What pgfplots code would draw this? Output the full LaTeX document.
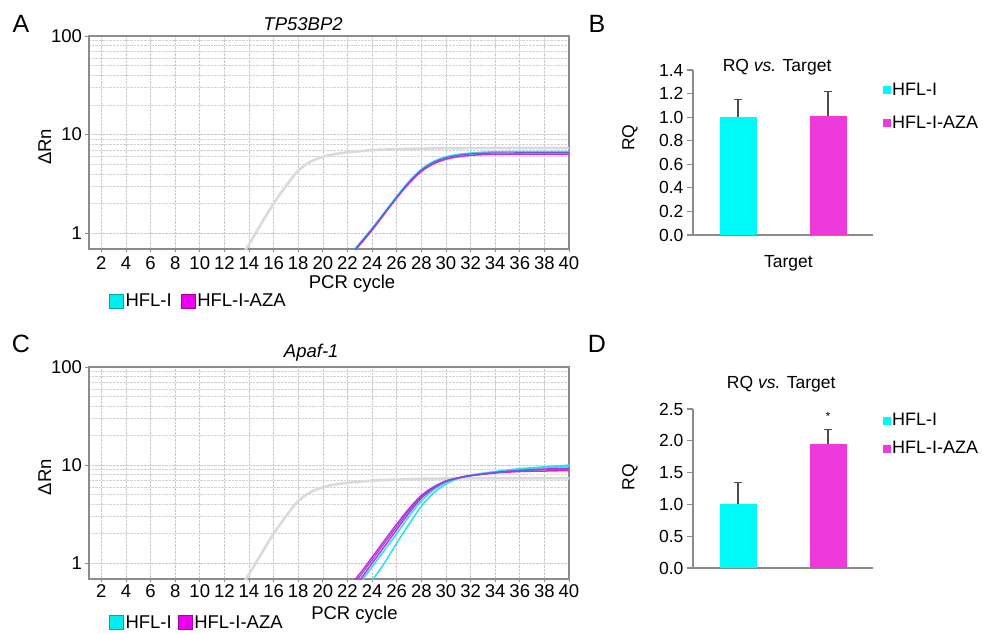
\documentclass[border=0pt]{standalone}
\usepackage{pgfplots}
\pgfplotsset{compat=1.18}
\usepackage{fontspec}
\setmainfont{Liberation Sans}
\definecolor{lcyan}{RGB}{40,225,235}
\definecolor{lmag}{RGB}{215,40,215}
\definecolor{lblue}{RGB}{95,95,225}
\definecolor{bcyan}{RGB}{0,250,250}
\definecolor{bmag}{RGB}{238,58,218}
\definecolor{sqcyan}{RGB}{0,238,238}
\definecolor{sqmag}{RGB}{238,0,238}
\definecolor{ghost}{RGB}{218,218,218}
\definecolor{axgray}{RGB}{140,140,140}
\definecolor{gridgray}{RGB}{200,200,200}
\newcommand{\fs}{\fontsize{18.5}{21}\selectfont}
\newcommand{\fsb}{\fontsize{17.5}{20}\selectfont}
\newcommand{\fsl}{\fontsize{18}{20}\selectfont}
\begin{document}
\begin{tikzpicture}
\path[use as bounding box] (0,0) rectangle (983pt,-633pt);
\node[font=\fontsize{25}{28}\selectfont] at (21pt,-24pt) {A};
\node[font=\fontsize{25}{28}\selectfont] at (597pt,-24pt) {B};
\node[font=\fontsize{25}{28}\selectfont] at (21pt,-344pt) {C};
\node[font=\fontsize{25}{28}\selectfont] at (597pt,-344pt) {D};

% ---------- A ----------
\begin{axis}[scale only axis, width=480pt, height=213pt, at={(89pt,-249pt)}, anchor=south west,
    ymode=log, xmin=1, xmax=40, ymin=0.69, ymax=100,
    xtick={2,4,...,40}, ytick={1,10,100}, yticklabels={1,10,100},
    grid=both, major grid style={densely dotted, gridgray, line width=0.6pt},
    minor grid style={densely dotted, gridgray!80, line width=0.5pt},
    tick pos=left, tick align=outside, major tick length=3.5pt, minor tick length=0pt,
    axis line style={axgray, line width=1.2pt}, tick style={axgray, line width=0.8pt},
    /pgf/number format/assume math mode=true,
    tick label style={font=\fs}, label style={font=\fs}, title style={font=\fs},
    xticklabel style={inner sep=1pt, yshift=-3pt},
    ylabel={ΔRn}, xlabel={PCR cycle},
  title={\textit{TP53BP2}}, title style={at={(axis description cs:0.446,1.026)}, anchor=center},
  ylabel style={at={(axis description cs:-0.092,0.48)}, anchor=center},
  xlabel style={at={(axis description cs:0.548,-0.165)}, anchor=center},
  legend style={at={(axis description cs:0.035,-0.243)}, anchor=west, draw=none, fill=none, font=\fs,
    /tikz/every even column/.append style={column sep=7pt}},
  legend columns=2, legend cell align=left]
\addplot[ghost, line width=2.6pt, smooth, forget plot] coordinates {
(13.5,0.62) (14,0.77) (15,1.25) (16,2.0) (17,3.0) (18,4.3) (19,5.3) (20,5.95) (21,6.35) (22,6.6) (24,6.95) (26,7.1) (28,7.2) (30,7.25) (34,7.3) (40,7.3)};
\addplot[lmag, line width=1.5pt, smooth, forget plot] coordinates {
(22,0.54) (23,0.76) (24,1.07) (25,1.56) (26,2.27) (27,3.2) (28,4.22) (29,5.05) (30,5.62) (31,5.95) (32,6.15) (33,6.25) (34,6.3) (36,6.32) (38,6.33) (40,6.33)};
\addplot[lcyan, line width=1.5pt, smooth, forget plot] coordinates {
(22,0.56) (23,0.79) (24,1.12) (25,1.62) (26,2.36) (27,3.35) (28,4.45) (29,5.35) (30,5.95) (31,6.3) (32,6.5) (33,6.62) (34,6.68) (36,6.7) (38,6.7) (40,6.7)};
\addplot[lblue, line width=1.3pt, smooth, forget plot] coordinates {
(22,0.55) (23,0.78) (24,1.1) (25,1.6) (26,2.32) (27,3.28) (28,4.35) (29,5.22) (30,5.8) (31,6.15) (32,6.35) (33,6.45) (34,6.5) (36,6.52) (38,6.55) (40,6.55)};
\addlegendimage{legend image code/.code={\draw[fill=sqcyan, draw=sqcyan!70!black, line width=0.5pt] (0pt,-7pt) rectangle (14pt,7pt);}}
\addlegendentry{HFL-I}
\addlegendimage{legend image code/.code={\draw[fill=sqmag, draw=sqmag!70!black, line width=0.5pt] (0pt,-7pt) rectangle (14pt,7pt);}}
\addlegendentry{HFL-I-AZA}
\end{axis}

% ---------- C ----------
\begin{axis}[scale only axis, width=480pt, height=212pt, at={(89pt,-579pt)}, anchor=south west,
    ymode=log, xmin=1, xmax=40, ymin=0.69, ymax=100,
    xtick={2,4,...,40}, ytick={1,10,100}, yticklabels={1,10,100},
    grid=both, major grid style={densely dotted, gridgray, line width=0.6pt},
    minor grid style={densely dotted, gridgray!80, line width=0.5pt},
    tick pos=left, tick align=outside, major tick length=3.5pt, minor tick length=0pt,
    axis line style={axgray, line width=1.2pt}, tick style={axgray, line width=0.8pt},
    /pgf/number format/assume math mode=true,
    tick label style={font=\fs}, label style={font=\fs}, title style={font=\fs},
    xticklabel style={inner sep=1pt, yshift=-1pt},
    ylabel={ΔRn}, xlabel={PCR cycle},
  title={\textit{Apaf-1}}, title style={at={(axis description cs:0.463,1.037)}, anchor=center},
  ylabel style={at={(axis description cs:-0.092,0.48)}, anchor=center},
  xlabel style={at={(axis description cs:0.553,-0.17)}, anchor=center},
  legend style={at={(axis description cs:0.035,-0.205)}, anchor=west, draw=none, fill=none, font=\fs,
    /tikz/every even column/.append style={column sep=4pt}},
  legend columns=2, legend cell align=left]
\addplot[ghost, line width=2.6pt, smooth, forget plot] coordinates {
(13.5,0.62) (14,0.77) (15,1.25) (16,2.0) (17,3.0) (18,4.3) (19,5.3) (20,5.95) (21,6.35) (22,6.6) (24,6.95) (26,7.1) (28,7.25) (30,7.3) (34,7.35) (40,7.35)};
\addplot[lcyan, line width=1.5pt, smooth, forget plot] coordinates {
(23.5,0.6) (24,0.67) (25,1.0) (26,1.6) (27,2.5) (28,3.8) (29,5.2) (30,6.4) (31,7.3) (32,7.9) (34,8.6) (36,9.2) (38,9.6) (40,10.0)};
\addplot[lcyan, line width=1.5pt, smooth, forget plot] coordinates {
(22.5,0.5) (23,0.62) (24,0.92) (25,1.35) (26,2.0) (27,3.0) (28,4.3) (29,5.6) (30,6.7) (31,7.4) (32,7.9) (34,8.5) (36,9.0) (38,9.4) (40,9.7)};
\addplot[lmag, line width=1.5pt, smooth, forget plot] coordinates {
(22,0.48) (23,0.67) (24,1.0) (25,1.48) (26,2.2) (27,3.25) (28,4.6) (29,5.8) (30,6.8) (31,7.4) (32,7.8) (34,8.4) (36,8.8) (38,9.1) (40,9.3)};
\addplot[lmag, line width=1.5pt, smooth, forget plot] coordinates {
(22,0.55) (23,0.78) (24,1.15) (25,1.7) (26,2.5) (27,3.6) (28,4.9) (29,6.0) (30,6.9) (31,7.4) (32,7.8) (34,8.3) (36,8.6) (38,8.7) (40,8.8)};
\addplot[lblue, line width=1.2pt, smooth, forget plot] coordinates {
(22,0.52) (23,0.73) (24,1.08) (25,1.6) (26,2.35) (27,3.45) (28,4.75) (29,5.9) (30,6.85) (31,7.4) (32,7.8) (34,8.4) (36,8.8) (38,9.0) (40,9.1)};
\addlegendimage{legend image code/.code={\draw[fill=sqcyan, draw=sqcyan!70!black, line width=0.5pt] (0pt,-7pt) rectangle (14pt,7pt);}}
\addlegendentry{HFL-I}
\addlegendimage{legend image code/.code={\draw[fill=sqmag, draw=sqmag!70!black, line width=0.5pt] (0pt,-7pt) rectangle (14pt,7pt);}}
\addlegendentry{HFL-I-AZA}
\end{axis}

% ---------- B ----------
\begin{axis}[scale only axis, width=180pt, height=165pt, at={(693pt,-235pt)}, anchor=south west,
    xmin=-0.5, xmax=1.5, ymin=0, ymax=1.4, ytick={0,0.2,...,1.4},
    axis lines*=left, axis line style={-, axgray, line width=1.2pt},
    tick style={axgray, line width=1.2pt}, tick align=outside, major tick length=6pt,
    xtick=\empty, ytick pos=left,
    /pgf/number format/assume math mode=true,
    yticklabel style={/pgf/number format/.cd, fixed, fixed zerofill, precision=1},
    tick label style={font=\fsb}, label style={font=\fsb}, title style={font=\fsb},
    ylabel={RQ}, title={RQ \textit{vs.} Target},
  title style={at={(axis description cs:0.467,0.982)}, anchor=center},
  ylabel style={at={(axis description cs:-0.35,0.59)}, anchor=center},
  xlabel={Target}, xlabel style={at={(axis description cs:0.53,-0.17)}, anchor=center},
  legend style={at={(axis description cs:1.055,0.78)}, anchor=west, draw=none, fill=none, font=\fsl, row sep=15pt,
    inner xsep=0pt},
  legend cell align=left]
\addplot[ybar, bar width=37pt, draw=none, fill=bcyan, forget plot,
    error bars/.cd, y dir=plus, y explicit,
    error bar style={line width=1.3pt, black!70},
    error mark options={rotate=90, mark size=4pt, line width=1.3pt, black!70}]
  coordinates {(0,1.00) +- (0,0.15)};
\addplot[ybar, bar width=37pt, draw=none, fill=bmag, forget plot,
    error bars/.cd, y dir=plus, y explicit,
    error bar style={line width=1.3pt, black!70},
    error mark options={rotate=90, mark size=4pt, line width=1.3pt, black!70}]
  coordinates {(1,1.01) +- (0,0.21)};
\addlegendimage{legend image code/.code={\fill[bcyan] (0pt,-3.5pt) rectangle (6.5pt,3.5pt);}}
\addlegendentry{HFL-I}
\addlegendimage{legend image code/.code={\fill[bmag] (0pt,-3.5pt) rectangle (6.5pt,3.5pt);}}
\addlegendentry{HFL-I-AZA}
\end{axis}

% ---------- D ----------
\begin{axis}[scale only axis, width=180pt, height=159pt, at={(693pt,-568pt)}, anchor=south west,
    xmin=-0.5, xmax=1.5, ymin=0, ymax=2.5, ytick={0,0.5,...,2.5},
    axis lines*=left, axis line style={-, axgray, line width=1.2pt},
    tick style={axgray, line width=1.2pt}, tick align=outside, major tick length=6pt,
    xtick=\empty, ytick pos=left,
    /pgf/number format/assume math mode=true,
    yticklabel style={/pgf/number format/.cd, fixed, fixed zerofill, precision=1},
    tick label style={font=\fsb}, label style={font=\fsb}, title style={font=\fsb},
    ylabel={RQ}, title={RQ \textit{vs.} Target},
  title style={at={(axis description cs:0.49,1.12)}, anchor=center},
  ylabel style={at={(axis description cs:-0.35,0.57)}, anchor=center},
  legend style={at={(axis description cs:1.055,0.84)}, anchor=west, draw=none, fill=none, font=\fsl, row sep=10pt,
    inner xsep=0pt},
  legend cell align=left]
\addplot[ybar, bar width=37pt, draw=none, fill=bcyan, forget plot,
    error bars/.cd, y dir=plus, y explicit,
    error bar style={line width=1.3pt, black!70},
    error mark options={rotate=90, mark size=4pt, line width=1.3pt, black!70}]
  coordinates {(0,1.00) +- (0,0.34)};
\addplot[ybar, bar width=37pt, draw=none, fill=bmag, forget plot,
    error bars/.cd, y dir=plus, y explicit,
    error bar style={line width=1.3pt, black!70},
    error mark options={rotate=90, mark size=4pt, line width=1.3pt, black!70}]
  coordinates {(1,1.95) +- (0,0.23)};
\node[font=\fontsize{12}{14}\selectfont] at (axis cs:1,2.38) {*};
\addlegendimage{legend image code/.code={\fill[bcyan] (0pt,-3.5pt) rectangle (6.5pt,3.5pt);}}
\addlegendentry{HFL-I}
\addlegendimage{legend image code/.code={\fill[bmag] (0pt,-3.5pt) rectangle (6.5pt,3.5pt);}}
\addlegendentry{HFL-I-AZA}
\end{axis}
\end{tikzpicture}
\end{document}
